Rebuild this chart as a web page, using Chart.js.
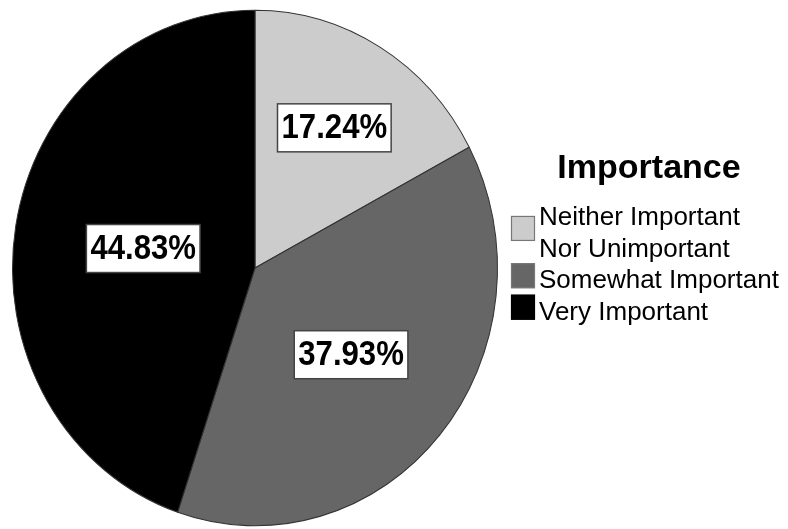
<!DOCTYPE html>
<html>
<head>
<meta charset="utf-8">
<script src="https://cdn.jsdelivr.net/npm/chart.js@4/dist/chart.umd.min.js"></script>
<style>
  html, body { margin: 0; padding: 0; background: #ffffff; }
  canvas { display: block; }
</style>
</head>
<body>
<canvas id="chart" width="788" height="529"></canvas>
<script>
// Response categories, shares (percent) and colours
const categories = ['Neither Important Nor Unimportant', 'Somewhat Important', 'Very Important'];
const legendLines = [['Neither Important', 'Nor Unimportant'], ['Somewhat Important'], ['Very Important']];
const percents = [17.24, 37.93, 44.83];
const sliceColors = ['#cccccc', '#666666', '#000000'];
const legendTitle = 'Importance';

// The pie is drawn slightly taller than wide
const Y_STRETCH = 1.063;

function pieCenter(chart) {
  const arc = chart.getDatasetMeta(0).data[0];
  return { cx: arc.x, cy: arc.y };
}

const ovalPlugin = {
  id: 'oval',
  beforeDatasetsDraw(chart) {
    const ctx = chart.ctx;
    const { cx, cy } = pieCenter(chart);
    ctx.save();
    ctx.translate(cx, cy);
    ctx.scale(1, Y_STRETCH);
    ctx.translate(-cx, -cy);
  },
  afterDatasetsDraw(chart) {
    chart.ctx.restore();
  }
};

// Boxed percentage labels at each slice's centroid, plus the legend on the right
const annotatePlugin = {
  id: 'annotate',
  afterDraw(chart) {
    const ctx = chart.ctx;
    const meta = chart.getDatasetMeta(0);
    ctx.save();
    ctx.font = 'bold 35px "Liberation Sans", Arial, sans-serif';
    ctx.textAlign = 'center';
    ctx.textBaseline = 'middle';
    const sx = 0.89;
    meta.data.forEach((arc, i) => {
      const p = arc.getProps(['x', 'y', 'startAngle', 'endAngle', 'outerRadius'], true);
      const half = (p.endAngle - p.startAngle) / 2;
      const mid = p.startAngle + half;
      const d = 2 * p.outerRadius * Math.sin(half) / (3 * half);
      const px = p.x + Math.cos(mid) * d;
      const py = p.y + Math.sin(mid) * d * Y_STRETCH;
      const text = percents[i].toFixed(2) + '%';
      const w = ctx.measureText(text).width * sx + 8;
      const h = 48;
      ctx.fillStyle = '#ffffff';
      ctx.fillRect(px - w / 2, py - h / 2, w, h);
      ctx.strokeStyle = '#444444';
      ctx.lineWidth = 1.5;
      ctx.strokeRect(px - w / 2, py - h / 2, w, h);
      ctx.save();
      ctx.translate(px, py + 1);
      ctx.scale(sx, 1);
      ctx.fillStyle = '#000000';
      ctx.fillText(text, 0, 0);
      ctx.restore();
    });

    // legend
    ctx.textAlign = 'center';
    ctx.textBaseline = 'alphabetic';
    ctx.fillStyle = '#000000';
    ctx.font = 'bold 34px "Liberation Sans", Arial, sans-serif';
    ctx.fillText(legendTitle, 649, 178);

    ctx.textAlign = 'left';
    ctx.font = '26px "Liberation Sans", Arial, sans-serif';
    const step = 31.5;
    const capH = 18.6;
    let base = 225;
    legendLines.forEach((lines, i) => {
      const first = base;
      lines.forEach((ln) => {
        ctx.fillStyle = '#000000';
        ctx.fillText(ln, 539, base);
        base += step;
      });
      const last = base - step;
      const center = ((first - capH) + last) / 2 - 3;
      ctx.fillStyle = sliceColors[i];
      ctx.fillRect(511, center - 12.5, 24, 25);
      ctx.strokeStyle = i === 2 ? '#000000' : '#777777';
      ctx.lineWidth = 1.2;
      ctx.strokeRect(511.5, center - 12, 23, 24);
    });
    ctx.restore();
  }
};

new Chart(document.getElementById('chart'), {
  type: 'pie',
  data: {
    labels: categories,
    datasets: [{
      data: percents,
      backgroundColor: sliceColors,
      borderColor: '#333333',
      borderWidth: 1
    }]
  },
  options: {
    responsive: false,
    devicePixelRatio: 1,
    animation: false,
    events: [],
    layout: { padding: { left: 12, right: 290, top: 25, bottom: 18 } },
    plugins: {
      legend: { display: false },
      tooltip: { enabled: false },
      title: { display: false }
    }
  },
  plugins: [ovalPlugin, annotatePlugin]
});
</script>
</body>
</html>
